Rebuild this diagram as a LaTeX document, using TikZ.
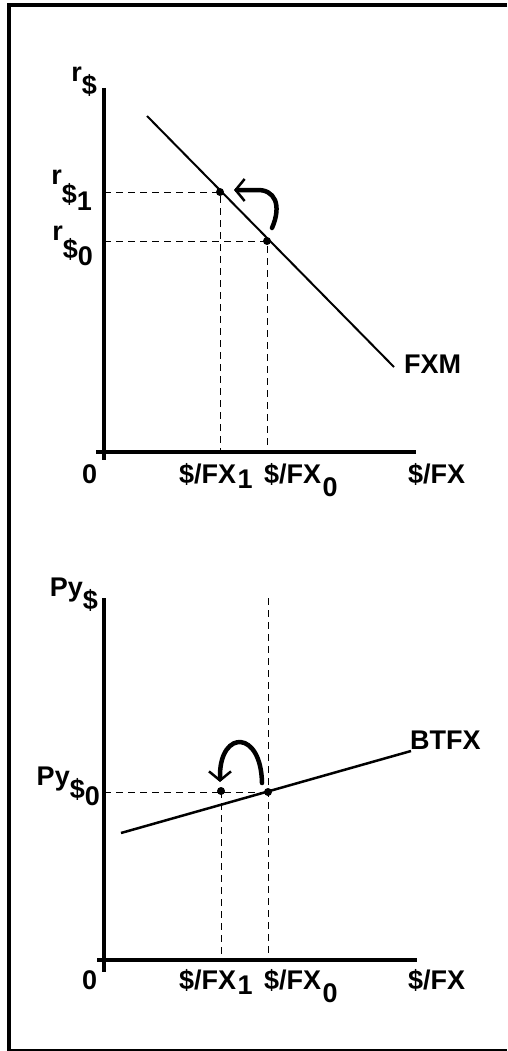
\documentclass[tikz,border=0pt]{standalone}
\usepackage{fontspec}
\setmainfont{Liberation Sans}
\usepackage{tikz}
\usetikzlibrary{arrows.meta,calc}
\newcommand{\drop}[2][0.3em]{\raisebox{-#1}{#2}}
\tikzset{
    axis/.style={line width=3.5pt, black},
    curve/.style={line width=2pt, black},
    guide/.style={line width=1pt, dash pattern=on 7pt off 5pt},
    dot/.style={circle, fill=black, inner sep=0pt, minimum size=8pt},
    swing/.style={line width=4.5pt, line cap=round, -{Straight Barb[length=9pt, width=22pt, line width=2.5pt]}},
    lbl/.style={font=\fontsize{27}{29}\selectfont\bfseries, inner sep=0pt, anchor=base west},
    ylbl/.style={lbl, anchor=base east},
    frame/.style={line width=4pt},
}

\begin{document}
\begin{tikzpicture}[x=1pt, y=-1pt]
    \useasboundingbox (0,0) rectangle (507,1051);

    % Frame
    \draw[frame] (507,5) -- (9,5) -- (9,1050);
    \draw[line width=2pt] (7,1050) -- (507,1050);

    % Top panel: FXM
    \coordinate (O1) at (104,452);
    \coordinate (Y1) at (104,88);
    \draw[axis] (Y1) -- ($(O1)+(0,8)$);
    \draw[axis] ($(O1)+(-8,0)$) -- ($(O1)+(312,0)$);
    \coordinate (fxmS) at (147,116);
    \coordinate (fxmE) at (394,367);
    \draw[curve] (fxmS) -- (fxmE);
    \node[dot] (A1) at (220,192) {};
    \node[dot] (A0) at (267,241) {};
    \foreach \p in {A1, A0} {
        \draw[guide] (O1 |- \p) -- (\p.center) -- (\p |- O1);
    }
    \coordinate (a0) at (272,228);
    \coordinate (a1) at (256,190);
    \draw[swing] (a0) .. controls (282,205) and (275,189) .. (a1) -- (234,190);

    \node[ylbl] (rlab) at (97,82) {r\drop[0.45em]{\$}};
    \node[ylbl] (r1) at (92,185) {r\drop[0.7em]{\$\drop[0.25em]{1}}};
    \node[ylbl] (r0) at (93,240) {r\drop[0.7em]{\$\drop[0.25em]{0}}};
    \node[lbl] (fxm) at (404,373) {FXM};

    % Bottom panel: BTFX
    \coordinate (O2) at (104,960);
    \coordinate (Y2) at (104,598);
    \draw[axis] (Y2) -- ($(O2)+(0,12)$);
    \draw[axis] ($(O2)+(-7,0)$) -- ($(O2)+(313,0)$);
    \coordinate (btS) at (121,833);
    \coordinate (btE) at (411,751);
    \draw[curve, line width=2.5pt] (btS) -- (btE);
    \node[dot] (B1) at (221,791) {};
    \node[dot] (B0) at (268,792) {};
    \draw[guide] (O2 |- B0) -- (B0.center);
    \draw[guide] (B0 |- Y2) -- (B0 |- O2);
    \draw[guide] (B1.center) -- (B1 |- O2);
    \coordinate (b0) at (262,783);
    \coordinate (b1) at (220,774);
    \draw[swing] (b0) .. controls (261,730) and (221,730) .. (b1) -- (220,782);

    \node[ylbl] (pylab) at (98,596) {Py\drop[0.5em]{\$}};
    \node[ylbl] (py0) at (100,785) {Py\drop[0.5em]{\$\drop[0.25em]{0}}};
    \node[lbl] (btfx) at (410,749) {BTFX};

    % Horizontal axis labels
    \foreach \o/\dy in {O1/31, O2/29} {
        \node[lbl] at ($(\o)+(-22,\dy)$) {0};
        \node[lbl] at ($(\o)+(75,\dy)$) {\$/FX\kern1.5pt\drop[0.2em]{1}};
        \node[lbl] at ($(\o)+(160,\dy)$) {\$/FX\kern1.5pt\drop[0.5em]{0}};
        \node[lbl] at ($(\o)+(304,\dy)$) {\$/FX};
    }
\end{tikzpicture}
\end{document}
